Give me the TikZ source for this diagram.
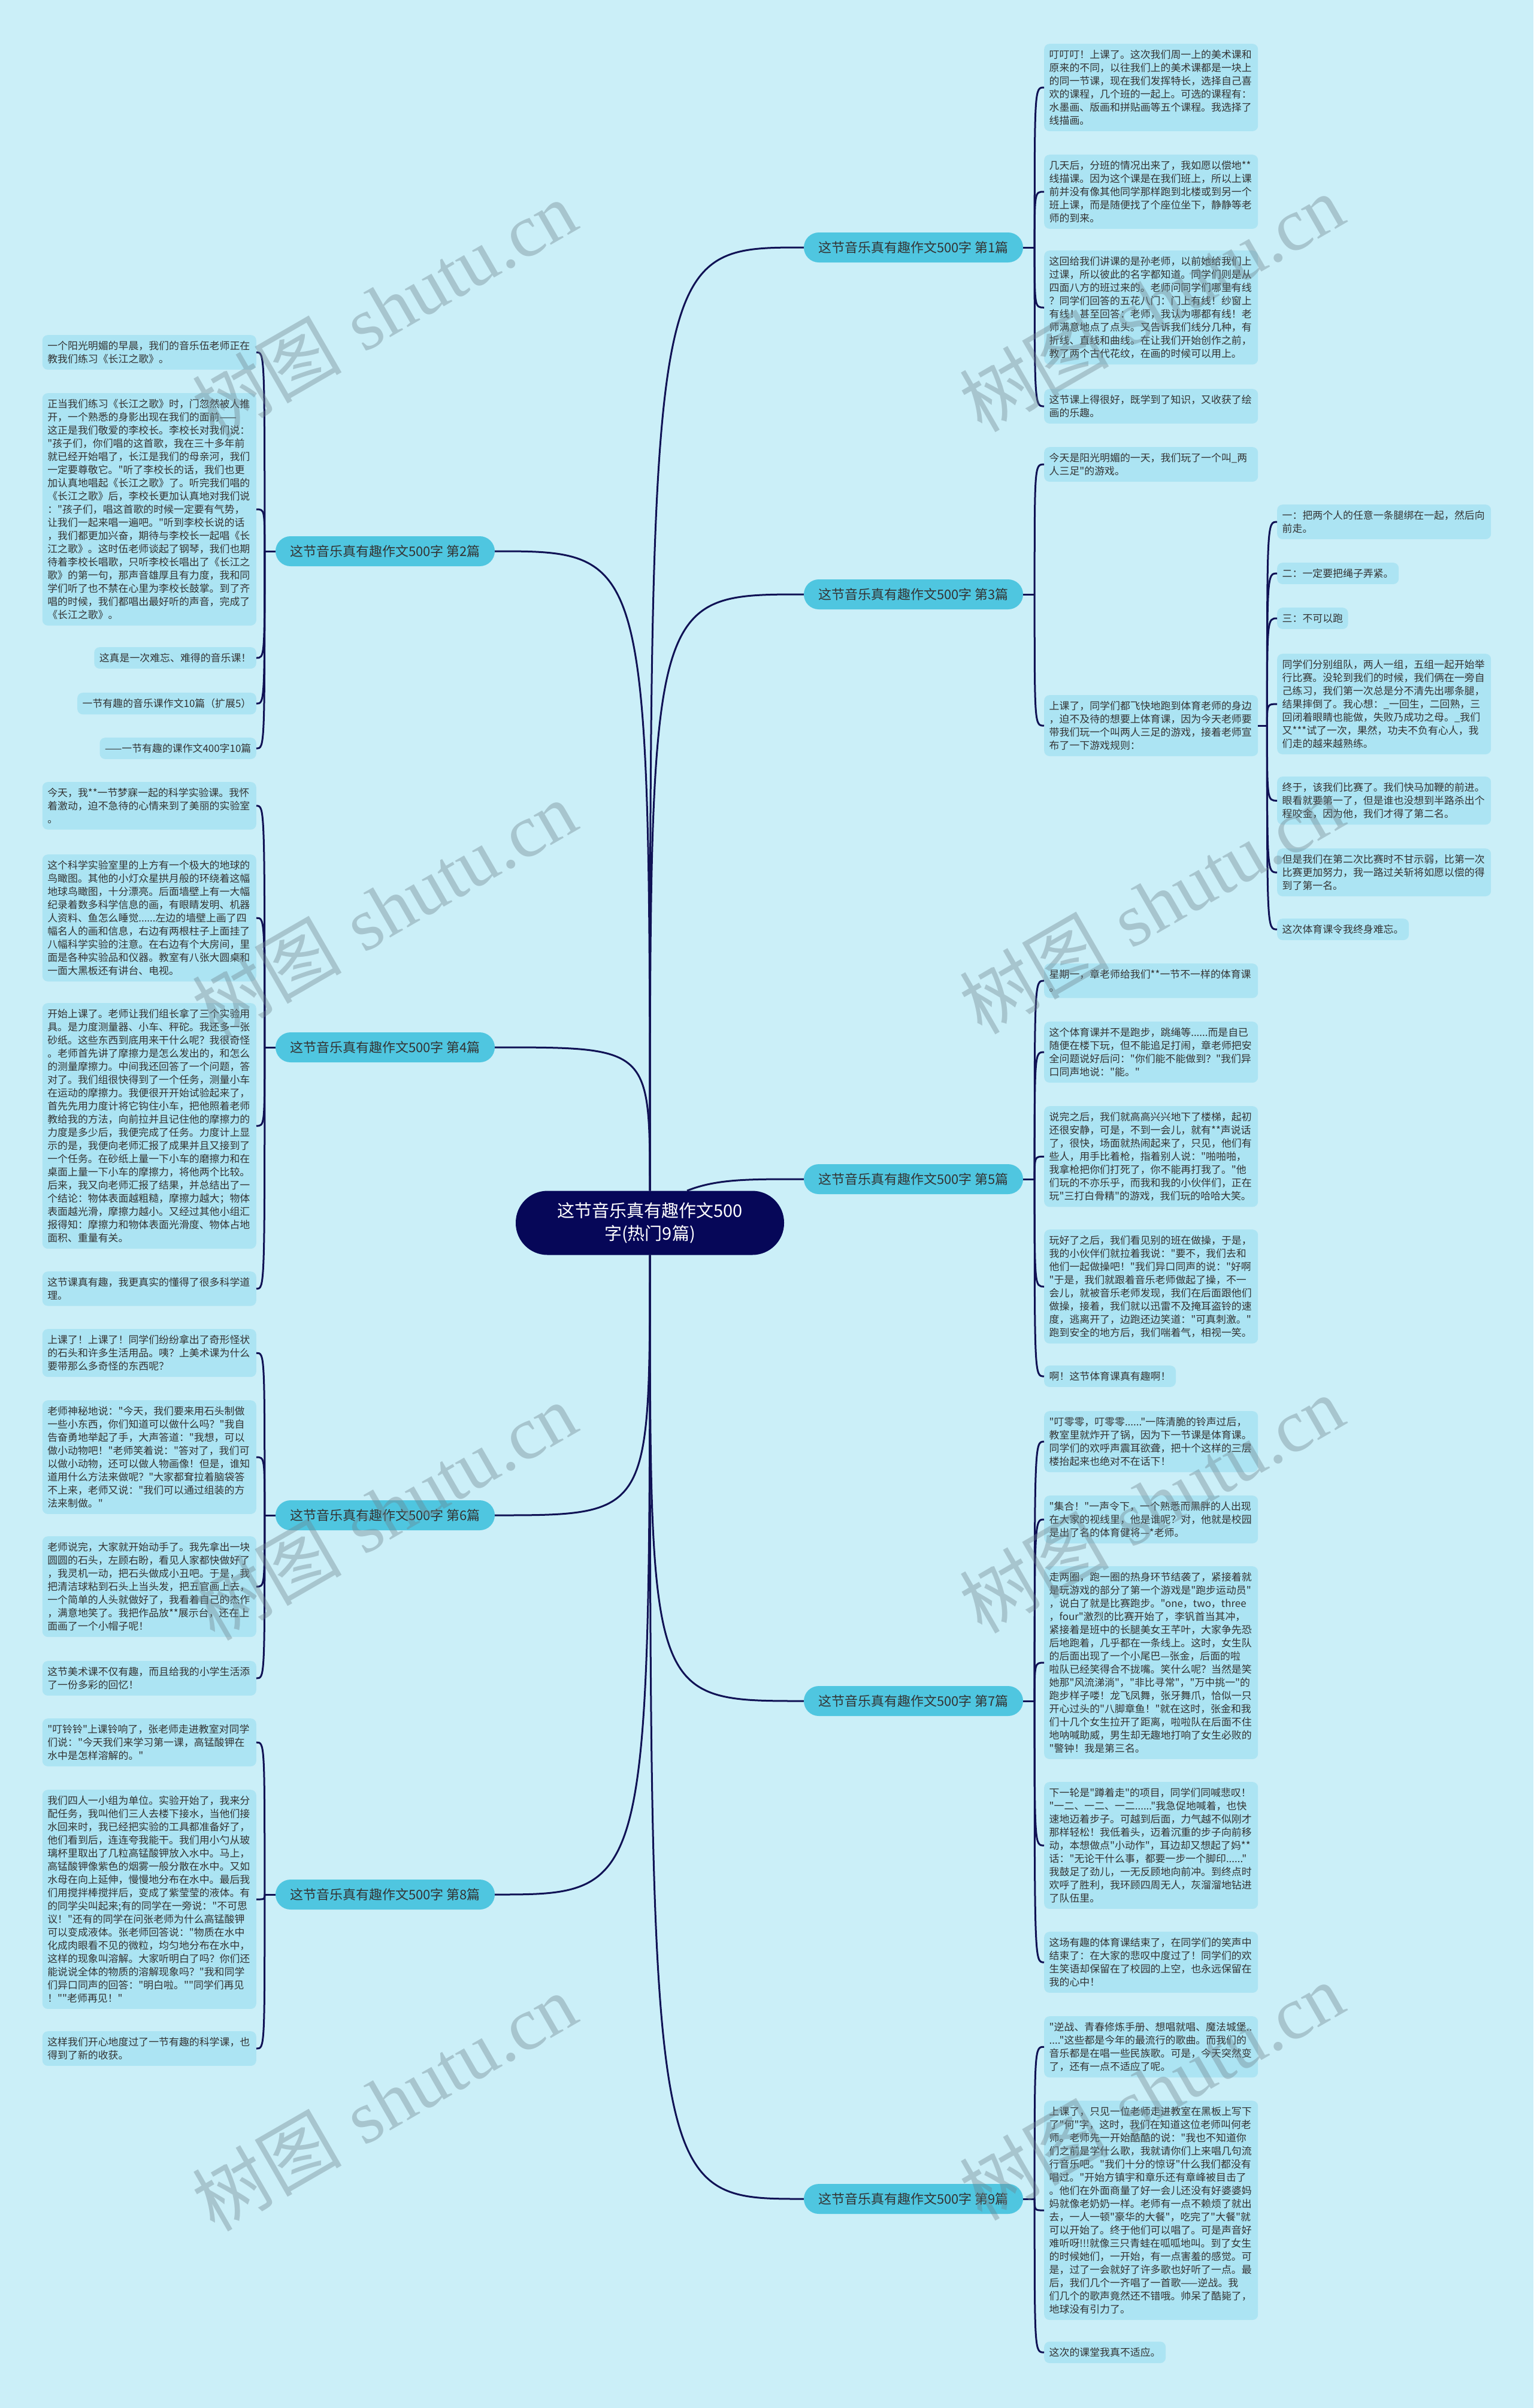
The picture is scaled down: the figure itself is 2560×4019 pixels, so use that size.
\documentclass[tikz,border=0pt]{standalone}
\usepackage{fontspec}
\newfontfamily\cjk{Noto Sans CJK SC}
\newfontfamily\wmfont{Liberation Serif}
\usepackage{tikz}

\definecolor{bgcyan}{RGB}{203,239,248}
\definecolor{boxcyan}{RGB}{172,228,243}
\definecolor{topiccyan}{RGB}{79,198,224}
\definecolor{rootnavy}{RGB}{6,7,88}
\definecolor{linknavy}{RGB}{16,18,85}
\definecolor{inkgray}{RGB}{51,51,51}
\definecolor{wmgray}{RGB}{110,130,140}

\tikzset{
  link/.style={draw=linknavy, line width=3pt},
  leafbase/.style={fill=boxcyan, text=inkgray, rounded corners=9pt, inner xsep=8.5pt, inner ysep=10pt, font=\cjk\fontsize{16.9}{22}\selectfont},
  para/.style={leafbase, align=left, text width=340pt},
  note/.style={leafbase},
  topic/.style={fill=topiccyan, text=inkgray, rounded corners=25pt, minimum width=366pt, minimum height=50pt, font=\cjk\fontsize{22}{28}\selectfont},
  rootnode/.style={fill=rootnavy, text=white, rounded corners=53pt, minimum width=448pt, minimum height=107pt, align=center, font=\cjk\fontsize{29}{38}\selectfont},
  stamp/.style={text=wmgray, opacity=0.38, rotate=30, font=\fontsize{125}{125}\selectfont}
}

\begin{document}
\begin{tikzpicture}[x=1pt, y=1pt]
    \fill[bgcyan] (0,0) rectangle (2560,-4019);
    \useasboundingbox (0,0) rectangle (2560,-4019);

    \node[rootnode] (root) at (1085,-2041) {这节音乐真有趣作文500\\字(热门9篇)};

    \node[topic] (b1) at (1525,-413) {这节音乐真有趣作文500字 第1篇};
    \node[topic] (b3) at (1525,-992) {这节音乐真有趣作文500字 第3篇};
    \node[topic] (b5) at (1525,-1968) {这节音乐真有趣作文500字 第5篇};
    \node[topic] (b7) at (1525,-2839) {这节音乐真有趣作文500字 第7篇};
    \node[topic] (b9) at (1525,-3670) {这节音乐真有趣作文500字 第9篇};
    \node[topic] (b2) at (643,-920) {这节音乐真有趣作文500字 第2篇};
    \node[topic] (b4) at (643,-1748) {这节音乐真有趣作文500字 第4篇};
    \node[topic] (b6) at (643,-2529) {这节音乐真有趣作文500字 第6篇};
    \node[topic] (b8) at (643,-3162) {这节音乐真有趣作文500字 第8篇};

    \node[para, anchor=north west] (r1a) at (1743,-73) {叮叮叮！上课了。这次我们周一上的美术课和\\原来的不同，以往我们上的美术课都是一块上\\的同一节课，现在我们发挥特长，选择自己喜\\欢的课程，几个班的一起上。可选的课程有：\\水墨画、版画和拼贴画等五个课程。我选择了\\线描画。};
    \node[para, anchor=north west] (r1b) at (1743,-258) {几天后，分班的情况出来了，我如愿以偿地**\\线描课。因为这个课是在我们班上，所以上课\\前并没有像其他同学那样跑到北楼或到另一个\\班上课，而是随便找了个座位坐下，静静等老\\师的到来。};
    \node[para, anchor=north west] (r1c) at (1743,-418) {这回给我们讲课的是孙老师，以前她给我们上\\过课，所以彼此的名字都知道。同学们则是从\\四面八方的班过来的。老师问同学们哪里有线\\？同学们回答的五花八门：门上有线！纱窗上\\有线！甚至回答：老师，我认为哪都有线！老\\师满意地点了点头。又告诉我们线分几种，有\\折线、直线和曲线。在让我们开始创作之前，\\教了两个古代花纹，在画的时候可以用上。};
    \node[para, anchor=north west] (r1d) at (1743,-649) {这节课上得很好，既学到了知识，又收获了绘\\画的乐趣。};

    \node[para, anchor=north west] (r3a) at (1743,-746) {今天是阳光明媚的一天，我们玩了一个叫\_两\\人三足"的游戏。};
    \node[para, anchor=north west] (r3b) at (1743,-1160) {上课了，同学们都飞快地跑到体育老师的身边\\，迫不及待的想要上体育课，因为今天老师要\\带我们玩一个叫两人三足的游戏，接着老师宣\\布了一下游戏规则：};

    \node[para, anchor=north west] (m1) at (2132,-842) {一：把两个人的任意一条腿绑在一起，然后向\\前走。};
    \node[note, anchor=north west] (m2) at (2132,-939) {二：一定要把绳子弄紧。};
    \node[note, anchor=north west] (m3) at (2132,-1014) {三：不可以跑};
    \node[para, anchor=north west] (m4) at (2132,-1091) {同学们分别组队，两人一组，五组一起开始举\\行比赛。没轮到我们的时候，我们俩在一旁自\\己练习，我们第一次总是分不清先出哪条腿，\\结果摔倒了。我心想：\_一回生，二回熟，三\\回闭着眼睛也能做，失败乃成功之母。\_我们\\又***试了一次，果然，功夫不负有心人，我\\们走的越来越熟练。};
    \node[para, anchor=north west] (m5) at (2132,-1296) {终于，该我们比赛了。我们快马加鞭的前进。\\眼看就要第一了，但是谁也没想到半路杀出个\\程咬金，因为他，我们才得了第二名。};
    \node[para, anchor=north west] (m6) at (2132,-1416) {但是我们在第二次比赛时不甘示弱，比第一次\\比赛更加努力，我一路过关斩将如愿以偿的得\\到了第一名。};
    \node[note, anchor=north west] (m7) at (2132,-1533) {这次体育课令我终身难忘。};

    \node[para, anchor=north west] (r5a) at (1743,-1608) {星期一，章老师给我们**一节不一样的体育课\\。};
    \node[para, anchor=north west] (r5b) at (1743,-1705) {这个体育课并不是跑步，跳绳等......而是自已\\随便在楼下玩，但不能追足打闹，章老师把安\\全问题说好后问："你们能不能做到？"我们异\\口同声地说："能。"};
    \node[para, anchor=north west] (r5c) at (1743,-1846) {说完之后，我们就高高兴兴地下了楼梯，起初\\还很安静，可是，不到一会儿，就有**声说话\\了，很快，场面就热闹起来了，只见，他们有\\些人，用手比着枪，指着别人说："啪啪啪，\\我拿枪把你们打死了，你不能再打我了。"他\\们玩的不亦乐乎，而我和我的小伙伴们，正在\\玩"三打白骨精"的游戏，我们玩的哈哈大笑。};
    \node[para, anchor=north west] (r5d) at (1743,-2052) {玩好了之后，我们看见别的班在做操，于是，\\我的小伙伴们就拉着我说："要不，我们去和\\他们一起做操吧！"我们异口同声的说："好啊\\"于是，我们就跟着音乐老师做起了操，不一\\会儿，就被音乐老师发现，我们在后面跟他们\\做操，接着，我们就以迅雷不及掩耳盗铃的速\\度，逃离开了，边跑还边笑道："可真刺激。"\\跑到安全的地方后，我们喘着气，相视一笑。};
    \node[note, anchor=north west] (r5e) at (1743,-2279) {啊！这节体育课真有趣啊！};

    \node[para, anchor=north west] (r7a) at (1743,-2355) {"叮零零，叮零零......"一阵清脆的铃声过后，\\教室里就炸开了锅，因为下一节课是体育课。\\同学们的欢呼声震耳欲聋，把十个这样的三层\\楼抬起来也绝对不在话下！};
    \node[para, anchor=north west] (r7b) at (1743,-2496) {"集合！"一声令下，一个熟悉而黑胖的人出现\\在大家的视线里，他是谁呢？对，他就是校园\\是出了名的体育健将—*老师。};
    \node[para, anchor=north west] (r7c) at (1743,-2614) {走两圈，跑一圈的热身环节结袭了，紧接着就\\是玩游戏的部分了第一个游戏是"跑步运动员"\\，说白了就是比赛跑步。"one，two，three\\，four"激烈的比赛开始了，李钒首当其冲，\\紧接着是班中的长腿美女王芊叶，大家争先恐\\后地跑着，几乎都在一条线上。这时，女生队\\的后面出现了一个小尾巴—张金，后面的啦\\啦队已经笑得合不拢嘴。笑什么呢？当然是笑\\她那"风流涕淌"，"非比寻常"，"万中挑一"的\\跑步样子喽！龙飞凤舞，张牙舞爪，恰似一只\\开心过头的"八脚章鱼！"就在这时，张金和我\\们十几个女生拉开了距离，啦啦队在后面不住\\地呐喊助威，男生却无趣地打响了女生必败的\\"警钟！我是第三名。};
    \node[para, anchor=north west] (r7d) at (1743,-2974) {下一轮是"蹲着走"的项目，同学们同喊悲叹！\\"一二、一二、一二......"我急促地喊着，也快\\速地迈着步子。可越到后面，力气越不似刚才\\那样轻松！我低着头，迈着沉重的步子向前移\\动，本想做点"小动作"，耳边却又想起了妈**\\话："无论干什么事，都要一步一个脚印......"\\我鼓足了劲儿，一无反顾地向前冲。到终点时\\欢呼了胜利，我环顾四周无人，灰溜溜地钻进\\了队伍里。};
    \node[para, anchor=north west] (r7e) at (1743,-3224) {这场有趣的体育课结束了，在同学们的笑声中\\结束了：在大家的悲叹中度过了！同学们的欢\\生笑语却保留在了校园的上空，也永远保留在\\我的心中！};

    \node[para, anchor=north west] (r9a) at (1743,-3365) {"逆战、青春修炼手册、想唱就唱、魔法城堡..\\...."这些都是今年的最流行的歌曲。而我们的\\音乐都是在唱一些民族歌。可是，今天突然变\\了，还有一点不适应了呢。};
    \node[para, anchor=north west] (r9b) at (1743,-3506) {上课了，只见一位老师走进教室在黑板上写下\\了"何"字，这时，我们在知道这位老师叫何老\\师。老师先一开始酷酷的说："我也不知道你\\们之前是学什么歌，我就请你们上来唱几句流\\行音乐吧。"我们十分的惊讶"什么我们都没有\\唱过。"开始方镇宇和章乐还有章峰被目击了\\。他们在外面商量了好一会儿还没有好婆婆妈\\妈就像老奶奶一样。老师有一点不赖烦了就出\\去，一人一顿"豪华的大餐"，吃完了"大餐"就\\可以开始了。终于他们可以唱了。可是声音好\\难听呀!!!就像三只青蛙在呱呱地叫。到了女生\\的时候她们，一开始，有一点害羞的感觉。可\\是，过了一会就好了许多歌也好听了一点。最\\后，我们几个一齐唱了一首歌——逆战。我\\们几个的歌声竟然还不错哦。帅呆了酷毙了，\\地球没有引力了。};
    \node[note, anchor=north west] (r9c) at (1743,-3908) {这次的课堂我真不适应。};

    \node[para, anchor=north east] (l2a) at (428,-559) {一个阳光明媚的早晨，我们的音乐伍老师正在\\教我们练习《长江之歌》。};
    \node[para, anchor=north east] (l2b) at (428,-656) {正当我们练习《长江之歌》时，门忽然被人推\\开，一个熟悉的身影出现在我们的面前——\\这正是我们敬爱的李校长。李校长对我们说：\\"孩子们，你们唱的这首歌，我在三十多年前\\就已经开始唱了，长江是我们的母亲河，我们\\一定要尊敬它。"听了李校长的话，我们也更\\加认真地唱起《长江之歌》了。听完我们唱的\\《长江之歌》后，李校长更加认真地对我们说\\："孩子们，唱这首歌的时候一定要有气势，\\让我们一起来唱一遍吧。"听到李校长说的话\\，我们都更加兴奋，期待与李校长一起唱《长\\江之歌》。这时伍老师谈起了钢琴，我们也期\\待着李校长唱歌，只听李校长唱出了《长江之\\歌》的第一句，那声音雄厚且有力度，我和同\\学们听了也不禁在心里为李校长鼓掌。到了齐\\唱的时候，我们都唱出最好听的声音，完成了\\《长江之歌》。};
    \node[note, anchor=north east] (l2c) at (428,-1080) {这真是一次难忘、难得的音乐课！};
    \node[note, anchor=north east] (l2d) at (428,-1156) {一节有趣的音乐课作文10篇（扩展5）};
    \node[note, anchor=north east] (l2e) at (428,-1231) {——一节有趣的课作文400字10篇};

    \node[para, anchor=north east] (l4a) at (428,-1305) {今天，我**一节梦寐一起的科学实验课。我怀\\着激动，迫不急待的心情来到了美丽的实验室\\。};
    \node[para, anchor=north east] (l4b) at (428,-1426) {这个科学实验室里的上方有一个极大的地球的\\鸟瞰图。其他的小灯众星拱月般的环绕着这幅\\地球鸟瞰图，十分漂亮。后面墙壁上有一大幅\\纪录着数多科学信息的画，有眼睛发明、机器\\人资料、鱼怎么睡觉......左边的墙壁上画了四\\幅名人的画和信息，右边有两根柱子上面挂了\\八幅科学实验的注意。在右边有个大房间，里\\面是各种实验品和仪器。教室有八张大圆桌和\\一面大黑板还有讲台、电视。};
    \node[para, anchor=north east] (l4c) at (428,-1674) {开始上课了。老师让我们组长拿了三个实验用\\具。是力度测量器、小车、秤砣。我还多一张\\砂纸。这些东西到底用来干什么呢？我很奇怪\\。老师首先讲了摩擦力是怎么发出的，和怎么\\的测量摩擦力。中间我还回答了一个问题，答\\对了。我们组很快得到了一个任务，测量小车\\在运动的摩擦力。我便很开开始试验起来了，\\首先先用力度计将它钩住小车，把他照着老师\\教给我的方法，向前拉并且记住他的摩擦力的\\力度是多少后，我便完成了任务。力度计上显\\示的是，我便向老师汇报了成果并且又接到了\\一个任务。在砂纸上量一下小车的磨擦力和在\\桌面上量一下小车的摩擦力，将他两个比较。\\后来，我又向老师汇报了结果，并总结出了一\\个结论：物体表面越粗糙，摩擦力越大；物体\\表面越光滑，摩擦力越小。又经过其他小组汇\\报得知：摩擦力和物体表面光滑度、物体占地\\面积、重量有关。};
    \node[para, anchor=north east] (l4d) at (428,-2122) {这节课真有趣，我更真实的懂得了很多科学道\\理。};

    \node[para, anchor=north east] (l6a) at (428,-2218) {上课了！上课了！同学们纷纷拿出了奇形怪状\\的石头和许多生活用品。咦？上美术课为什么\\要带那么多奇怪的东西呢？};
    \node[para, anchor=north east] (l6b) at (428,-2337) {老师神秘地说："今天，我们要来用石头制做\\一些小东西，你们知道可以做什么吗？"我自\\告奋勇地举起了手，大声答道："我想，可以\\做小动物吧！"老师笑着说："答对了，我们可\\以做小动物，还可以做人物画像！但是，谁知\\道用什么方法来做呢？"大家都耷拉着脑袋答\\不上来，老师又说："我们可以通过组装的方\\法来制做。"};
    \node[para, anchor=north east] (l6c) at (428,-2564) {老师说完，大家就开始动手了。我先拿出一块\\圆圆的石头，左顾右盼，看见人家都快做好了\\，我灵机一动，把石头做成小丑吧。于是，我\\把清洁球粘到石头上当头发，把五官画上去，\\一个简单的人头就做好了，我看着自己的杰作\\，满意地笑了。我把作品放**展示台，还在上\\面画了一个小帽子呢！};
    \node[para, anchor=north east] (l6d) at (428,-2772) {这节美术课不仅有趣，而且给我的小学生活添\\了一份多彩的回忆！};

    \node[para, anchor=north east] (l8a) at (428,-2868) {"叮铃铃"上课铃响了，张老师走进教室对同学\\们说："今天我们来学习第一课，高锰酸钾在\\水中是怎样溶解的。"};
    \node[para, anchor=north east] (l8b) at (428,-2987) {我们四人一小组为单位。实验开始了，我来分\\配任务，我叫他们三人去楼下接水，当他们接\\水回来时，我已经把实验的工具都准备好了，\\他们看到后，连连夸我能干。我们用小勺从玻\\璃杯里取出了几粒高锰酸钾放入水中。马上，\\高锰酸钾像紫色的烟雾一般分散在水中。又如\\水母在向上延伸，慢慢地分布在水中。最后我\\们用搅拌棒搅拌后，变成了紫莹莹的液体。有\\的同学尖叫起来;有的同学在一旁说："不可思\\议！"还有的同学在问张老师为什么高锰酸钾\\可以变成液体。张老师回答说："物质在水中\\化成肉眼看不见的微粒，均匀地分布在水中，\\这样的现象叫溶解。大家听明白了吗？你们还\\能说说全体的物质的溶解现象吗？"我和同学\\们异口同声的回答："明白啦。""同学们再见\\！""老师再见！"};
    \node[para, anchor=north east] (l8c) at (428,-3390) {这样我们开心地度过了一节有趣的科学课，也\\得到了新的收获。};

    \foreach \b in {b1,b3}
        \draw[link] (root.north) .. controls (root.north |- \b.west) .. (\b.west);
    \foreach \b in {b7,b9}
        \draw[link] (root.south) .. controls (root.south |- \b.west) .. (\b.west);
    \foreach \b in {b2,b4}
        \draw[link] (root.north) .. controls (root.north |- \b.east) .. (\b.east);
    \foreach \b in {b6,b8}
        \draw[link] (root.south) .. controls (root.south |- \b.east) .. (\b.east);
    \draw[link] ([xshift=62pt]root.north) .. controls +(50,20) and +(-90,0) .. (b5.west);

    \coordinate (s1) at ([xshift=19pt]b1.east);
    \coordinate (s3) at ([xshift=19pt]b3.east);
    \coordinate (s5) at ([xshift=19pt]b5.east);
    \coordinate (s7) at ([xshift=19pt]b7.east);
    \coordinate (s9) at ([xshift=19pt]b9.east);
    \coordinate (s2) at ([xshift=-18pt]b2.west);
    \coordinate (s4) at ([xshift=-18pt]b4.west);
    \coordinate (s6) at ([xshift=-18pt]b6.west);
    \coordinate (s8) at ([xshift=-18pt]b8.west);
    \coordinate (sm) at ([xshift=15pt]r3b.east);

    \draw[link] (b1.east) -- (s1);
    \draw[link] (b3.east) -- (s3);
    \draw[link] (b5.east) -- (s5);
    \draw[link] (b7.east) -- (s7);
    \draw[link] (b9.east) -- (s9);
    \draw[link] (b2.west) -- (s2);
    \draw[link] (b4.west) -- (s4);
    \draw[link] (b6.west) -- (s6);
    \draw[link] (b8.west) -- (s8);
    \draw[link] (r3b.east) -- (sm);

    \foreach \n in {r1a,r1b,r1c,r1d}
        \draw[link] (s1) .. controls (s1 |- \n.west) .. (\n.west);
    \foreach \n in {r3a,r3b}
        \draw[link] (s3) .. controls (s3 |- \n.west) .. (\n.west);
    \foreach \n in {r5a,r5b,r5c,r5d,r5e}
        \draw[link] (s5) .. controls (s5 |- \n.west) .. (\n.west);
    \foreach \n in {r7a,r7b,r7c,r7d,r7e}
        \draw[link] (s7) .. controls (s7 |- \n.west) .. (\n.west);
    \foreach \n in {r9a,r9b,r9c}
        \draw[link] (s9) .. controls (s9 |- \n.west) .. (\n.west);
    \foreach \n in {m1,m2,m3,m4,m5,m6,m7}
        \draw[link] (sm) .. controls (sm |- \n.west) .. (\n.west);
    \foreach \n in {l2a,l2b,l2c,l2d,l2e}
        \draw[link] (s2) .. controls (s2 |- \n.east) .. (\n.east);
    \foreach \n in {l4a,l4b,l4c,l4d}
        \draw[link] (s4) .. controls (s4 |- \n.east) .. (\n.east);
    \foreach \n in {l6a,l6b,l6c,l6d}
        \draw[link] (s6) .. controls (s6 |- \n.east) .. (\n.east);
    \foreach \n in {l8a,l8b,l8c}
        \draw[link] (s8) .. controls (s8 |- \n.east) .. (\n.east);

    \node[stamp] (wm1) at (641,-515) {{\cjk 树图} {\wmfont shutu.cn}};
    \node[stamp] (wm2) at (1922,-505) {{\cjk 树图} {\wmfont shutu.cn}};
    \node[stamp] (wm3) at (641,-1517) {{\cjk 树图} {\wmfont shutu.cn}};
    \node[stamp] (wm4) at (1922,-1510) {{\cjk 树图} {\wmfont shutu.cn}};
    \node[stamp] (wm5) at (641,-2522) {{\cjk 树图} {\wmfont shutu.cn}};
    \node[stamp] (wm6) at (1922,-2510) {{\cjk 树图} {\wmfont shutu.cn}};
    \node[stamp] (wm7) at (641,-3508) {{\cjk 树图} {\wmfont shutu.cn}};
    \node[stamp] (wm8) at (1922,-3490) {{\cjk 树图} {\wmfont shutu.cn}};
\end{tikzpicture}
\end{document}
